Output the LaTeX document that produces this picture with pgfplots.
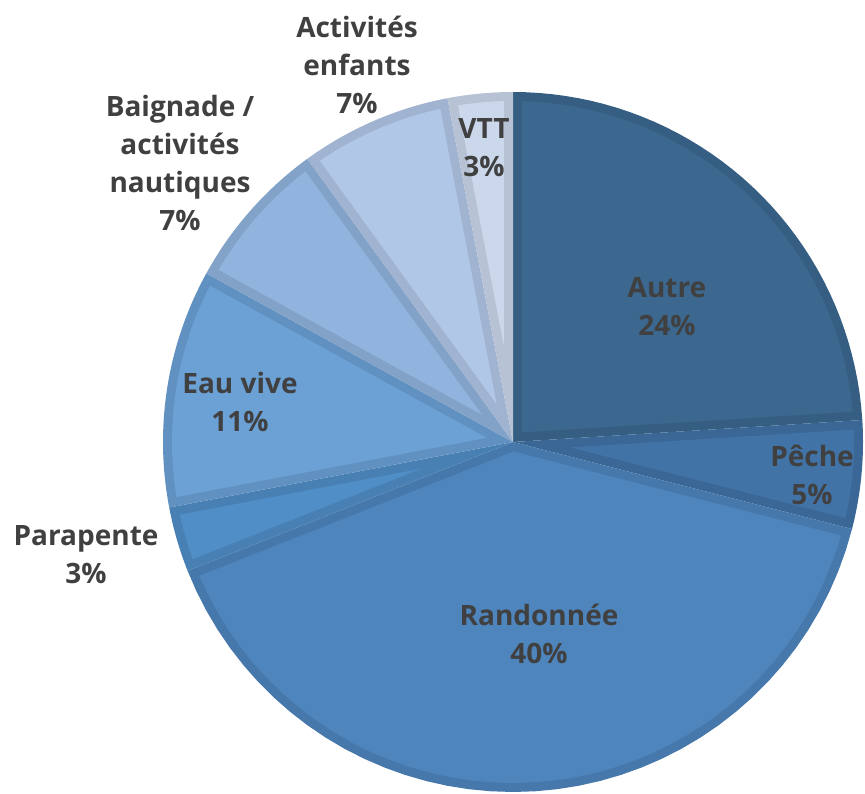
\documentclass[border=0pt]{standalone}
\usepackage{pgfplots}
\pgfplotsset{compat=1.18}
\usepackage{fontspec}
\setmainfont{Open Sans}

% slice colours: fill / inner border
\definecolor{cAutre}{HTML}{3C688F}   \definecolor{bAutre}{HTML}{365E82}
\definecolor{cPeche}{HTML}{4273A6}   \definecolor{bPeche}{HTML}{3A6796}
\definecolor{cRando}{HTML}{4E85BC}   \definecolor{bRando}{HTML}{4678AB}
\definecolor{cPara}{HTML}{508EC8}    \definecolor{bPara}{HTML}{4880B4}
\definecolor{cEau}{HTML}{6CA1D6}     \definecolor{bEau}{HTML}{6191C1}
\definecolor{cBaign}{HTML}{91B4DE}   \definecolor{bBaign}{HTML}{82A2C8}
\definecolor{cEnf}{HTML}{B1C7E7}     \definecolor{bEnf}{HTML}{A0B3D0}
\definecolor{cVTT}{HTML}{CBD8EC}     \definecolor{bVTT}{HTML}{B7C3D5}
\definecolor{txt}{HTML}{404040}

\tikzset{lab/.style={text=txt, font=\fontsize{14pt}{19pt}\selectfont\bfseries, align=center, inner sep=0pt}}

% pie geometry, in pixels of the reference
\def\cx{513}\def\cy{351}\def\R{350}\def\w{9}
\gdef\curang{90}

% one slice: value in %, fill colour, border colour
\newcommand\slice[3]{%
  \pgfmathsetmacro\sa{\curang}%
  \pgfmathsetmacro\ea{\curang-3.6*#1}%
  \xdef\curang{\ea}%
  \pgfmathsetmacro\half{1.8*#1}%
  \pgfmathsetmacro\dd{\w/sin(\half)}%
  \pgfmathsetmacro\ma{(\sa+\ea)/2}%
  \pgfmathsetmacro\vx{\cx+\dd*cos(\ma)}%
  \pgfmathsetmacro\vy{\cy+\dd*sin(\ma)}%
  \pgfmathsetmacro\dl{asin(\w/(\R-\w))}%
  \pgfmathsetmacro\ia{\ea+\dl}%
  \pgfmathsetmacro\ib{\sa-\dl}%
  \pgfmathsetmacro\ri{\R-\w}%
  \edef\tmp{%
    \noexpand\addplot[fill=#3, draw=none, samples at={0,...,41}, variable=\noexpand\t]
      ({\noexpand\t>40.5 ? \cx : \cx+\R*cos(\ea+(\sa-\ea)*\noexpand\t/40)},
       {\noexpand\t>40.5 ? \cy : \cy+\R*sin(\ea+(\sa-\ea)*\noexpand\t/40)});
    \noexpand\addplot[fill=#2, draw=none, samples at={0,...,41}, variable=\noexpand\t]
      ({\noexpand\t>40.5 ? \vx : \cx+\ri*cos(\ia+(\ib-\ia)*\noexpand\t/40)},
       {\noexpand\t>40.5 ? \vy : \cy+\ri*sin(\ia+(\ib-\ia)*\noexpand\t/40)});
  }%
  \tmp
}

\begin{document}
\begin{tikzpicture}
\begin{axis}[
    hide axis,
    x=0.5pt, y=0.5pt,
    xmin=0, xmax=865, ymin=0, ymax=793,
    clip=false,
]
  \path (axis cs:0,0) rectangle (axis cs:865,793);
  \slice{24}{cAutre}{bAutre}
  \slice{5}{cPeche}{bPeche}
  \slice{40}{cRando}{bRando}
  \slice{3}{cPara}{bPara}
  \slice{11}{cEau}{bEau}
  \slice{7}{cBaign}{bBaign}
  \slice{7}{cEnf}{bEnf}
  \slice{3}{cVTT}{bVTT}

  \node[lab] at (axis cs:667,486) {Autre\\24\%};
  \node[lab] at (axis cs:812,318) {Pêche\\5\%};
  \node[lab] at (axis cs:539,159) {Randonnée\\40\%};
  \node[lab] at (axis cs:86,238) {Parapente\\3\%};
  \node[lab] at (axis cs:240,391) {Eau vive\\11\%};
  \node[lab] at (axis cs:180,630) {Baignade /\\activités\\nautiques\\7\%};
  \node[lab] at (axis cs:357,728) {Activités\\enfants\\7\%};
  \node[lab] at (axis cs:484,645) {VTT\\3\%};
\end{axis}
\end{tikzpicture}
\end{document}
